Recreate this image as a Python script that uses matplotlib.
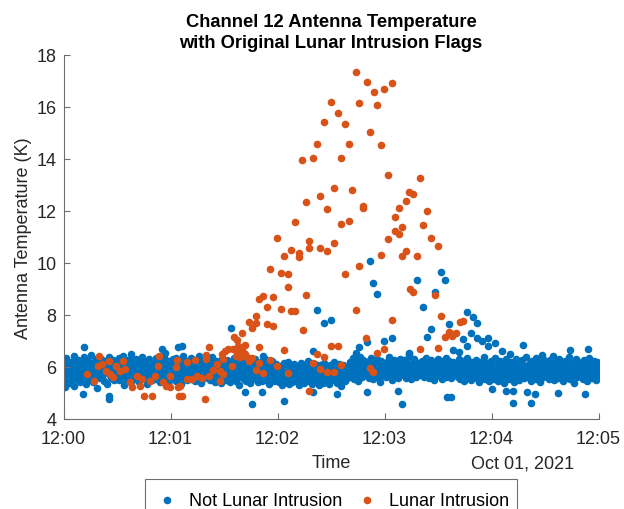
import matplotlib
matplotlib.use('Agg')
import matplotlib.pyplot as plt
from matplotlib.patches import Rectangle
import numpy as np

plt.rcParams['font.family'] = ['Liberation Sans', 'DejaVu Sans']

BLUE = '#0072BD'
ORANGE = '#D95319'

# minutes after 12:00, Oct 01 2021
x_ticks = [0, 1, 2, 3, 4, 5]
x_tick_labels = ['12:00', '12:01', '12:02', '12:03', '12:04', '12:05']
y_ticks = [4, 6, 8, 10, 12, 14, 16, 18]

# regular cold-view samples (not lunar intrusion), one row = 10 s
band_temp = [
    6.12, 5.64, 5.91, 6.33, 5.48, 5.87, 6.05, 5.72, 6.21, 5.39, 5.95, 6.18, 5.61, 5.83, 6.41, 5.27, 5.99, 6.08, 5.55, 5.78, 6.26, 5.69, 5.93, 5.44, 6.15,
    5.81, 6.02, 5.58, 6.37, 5.74, 5.96, 5.33, 6.11, 5.86, 6.24, 5.67, 5.52, 6.07, 5.89, 6.45, 5.71, 5.42, 6.19, 5.97, 5.63, 6.29, 5.85, 5.21, 6.03, 5.76,
    6.14, 5.57, 5.92, 6.31, 5.66, 5.84, 6.09, 5.46, 6.22, 5.79, 5.98, 5.35, 6.16, 5.73, 6.38, 5.88, 5.59, 6.04, 5.69, 6.27, 5.94, 5.51, 6.12, 5.82, 5.65,
    6.06, 5.77, 6.34, 5.49, 5.95, 6.20, 5.62, 5.87, 6.43, 5.30, 6.01, 5.74, 6.17, 5.55, 5.91, 6.28, 5.68, 5.83, 6.10, 5.41, 6.23, 5.97, 5.60, 6.05, 5.80,
    5.89, 6.32, 5.53, 6.00, 5.75, 6.25, 5.44, 5.93, 6.13, 5.66, 6.40, 5.84, 5.58, 6.08, 5.71, 5.98, 6.19, 5.36, 6.03, 5.79, 6.30, 5.63, 5.90, 6.15, 5.50,
    5.96, 6.21, 5.67, 5.86, 6.36, 5.52, 6.07, 5.78, 5.94, 6.26, 5.43, 6.11, 5.72, 6.02, 5.60, 6.39, 5.85, 5.57, 6.18, 5.81, 5.99, 5.38, 6.24, 5.70, 6.04,
    5.83, 6.14, 5.55, 6.29, 5.90, 5.64, 6.08, 5.47, 6.33, 5.76, 6.00, 5.61, 6.20, 5.88, 5.34, 6.12, 5.73, 6.42, 5.92, 5.58, 6.06, 5.80, 6.25, 5.49, 5.97,
    6.10, 5.68, 5.95, 6.35, 5.54, 5.87, 6.16, 5.74, 6.01, 5.45, 6.27, 5.82, 5.63, 6.09, 5.91, 6.44, 5.69, 5.40, 6.03, 5.78, 6.22, 5.96, 5.59, 6.13, 5.85,
    5.93, 6.19, 5.62, 5.84, 6.31, 5.50, 6.05, 5.77, 6.38, 5.66, 5.98, 6.11, 5.44, 5.89, 6.24, 5.71, 6.00, 5.56, 6.17, 5.81, 5.37, 6.28, 5.94, 5.65, 6.07,
    5.78, 6.09, 5.51, 5.92, 6.26, 5.63, 5.85, 6.02, 5.42, 6.18, 5.74, 5.97, 5.58, 6.33, 5.81, 5.67, 6.11, 5.46, 5.90, 6.21, 5.70, 5.31, 6.04, 5.86, 5.60,
    6.00, 5.73, 6.23, 5.55, 5.88, 6.14, 5.48, 5.79, 6.36, 5.64, 5.95, 5.39, 6.07, 5.82, 5.57, 6.19, 5.69, 5.91, 6.29, 5.52, 5.84, 6.06, 5.44, 5.76, 6.12,
    5.66, 5.94, 6.20, 5.47, 5.83, 6.03, 5.59, 6.30, 5.75, 5.50, 6.10, 5.87, 5.35, 5.98, 6.16, 5.71, 5.62, 6.25, 5.80, 5.45, 6.05, 5.93, 5.56, 6.13, 5.77,
    5.62, 5.88, 5.41, 6.05, 5.70, 5.93, 5.29, 5.78, 6.14, 5.53, 5.84, 5.46, 5.99, 5.66, 6.20, 5.35, 5.74, 5.57, 6.02, 5.81, 5.44, 5.69, 6.10, 5.50, 5.86,
    5.73, 5.48, 6.00, 5.60, 5.91, 5.32, 5.80, 6.17, 5.55, 5.67, 5.96, 5.39, 6.08, 5.71, 5.52, 5.89, 5.64, 6.23, 5.45, 5.83, 5.58, 6.04, 5.76, 5.36, 5.94,
    5.58, 5.85, 6.12, 5.43, 5.77, 5.64, 5.97, 5.30, 5.72, 6.06, 5.51, 5.87, 5.66, 5.38, 6.15, 5.79, 5.54, 5.92, 5.47, 6.01, 5.69, 5.34, 5.82, 6.09, 5.60,
    5.80, 5.56, 5.95, 6.18, 5.49, 5.74, 5.61, 6.03, 5.40, 5.88, 5.68, 6.11, 5.53, 5.83, 5.27, 5.71, 6.07, 5.63, 5.90, 5.46, 6.00, 5.75, 5.57, 5.98, 5.85,
    5.92, 6.18, 5.63, 6.05, 5.81, 6.33, 5.55, 5.98, 6.24, 5.70, 6.10, 5.86, 5.47, 6.15, 5.94, 6.40, 5.76, 6.02, 5.60, 6.27, 5.89, 5.68, 6.12, 5.83, 6.07,
    6.00, 5.74, 6.22, 5.58, 5.96, 6.36, 5.79, 6.09, 5.52, 5.91, 6.17, 5.67, 6.04, 5.85, 6.30, 5.62, 5.99, 6.13, 5.44, 5.88, 6.25, 5.71, 6.06, 5.95, 5.65,
    6.11, 5.84, 5.61, 6.20, 5.93, 6.38, 5.69, 6.01, 5.77, 6.14, 5.50, 5.97, 6.28, 5.82, 6.08, 5.64, 6.21, 5.90, 5.56, 6.03, 5.75, 6.32, 5.87, 6.16, 5.72,
    5.86, 6.26, 5.70, 6.02, 5.59, 5.95, 6.19, 5.80, 6.42, 5.66, 6.07, 5.89, 5.53, 6.13, 5.98, 5.73, 6.29, 5.84, 6.05, 5.61, 5.92, 6.17, 5.78, 6.00, 5.68,
    6.09, 5.76, 6.23, 5.94, 5.62, 6.12, 5.85, 6.35, 5.71, 5.99, 6.04, 5.57, 6.18, 5.90, 5.67, 6.27, 5.81, 6.06, 5.49, 5.96, 6.15, 5.74, 6.01, 5.88, 6.31,
    5.83, 6.10, 5.65, 6.22, 5.97, 5.52, 6.03, 5.79, 6.16, 5.91, 5.60, 6.34, 5.87, 6.00, 5.72, 6.25, 5.94, 5.58, 6.08, 5.82, 6.20, 5.69, 5.95, 6.13, 5.77,
    5.90, 6.16, 5.62, 5.97, 6.30, 5.54, 5.84, 6.08, 5.71, 6.24, 5.46, 5.93, 6.11, 5.79, 5.58, 6.35, 5.87, 6.02, 5.66, 5.95, 6.19, 5.50, 5.81, 6.05, 5.74,
    6.03, 5.68, 5.92, 6.27, 5.57, 5.85, 6.13, 5.41, 5.98, 6.20, 5.76, 5.63, 6.07, 5.89, 6.38, 5.52, 5.94, 5.70, 6.15, 5.83, 5.45, 6.10, 5.96, 5.60, 6.22,
    5.80, 6.09, 5.55, 5.91, 6.33, 5.67, 6.00, 5.78, 5.48, 6.17, 5.86, 6.25, 5.61, 5.99, 5.73, 6.12, 5.37, 5.88, 6.04, 5.64, 6.29, 5.82, 5.95, 5.53, 6.14,
    5.97, 5.72, 6.21, 5.59, 5.89, 6.06, 5.43, 5.84, 6.32, 5.69, 6.01, 5.77, 6.18, 5.51, 5.93, 6.10, 5.65, 6.26, 5.85, 5.56, 6.03, 5.79, 6.40, 5.62, 5.90,
    6.07, 5.81, 5.60, 6.15, 5.94, 5.47, 6.23, 5.75, 6.00, 5.66, 5.92, 6.36, 5.54, 5.87, 6.11, 5.71, 5.98, 5.42, 6.19, 5.83, 6.05, 5.63, 6.28, 5.90, 5.74,
    5.86, 6.12, 5.68, 6.04, 5.52, 5.95, 6.27, 5.78, 5.61, 6.09, 5.84, 6.20, 5.49, 5.97, 5.73, 6.14, 5.88, 5.56, 6.31, 5.80, 6.02, 5.67, 5.93, 6.17, 5.45,
    6.00, 5.76, 6.24, 5.58, 5.91, 6.08, 5.64, 6.37, 5.82, 5.53, 6.13, 5.89, 5.70, 6.21, 5.96, 5.40, 6.06, 5.79, 6.29, 5.62, 5.94, 6.16, 5.74, 6.03, 5.85,
    5.92, 6.19, 5.55, 5.98, 6.26, 5.71, 5.87, 6.10, 5.47, 6.02, 5.80, 6.33, 5.65, 5.95, 6.14, 5.59, 5.90, 6.22, 5.77, 6.05, 5.50, 5.84, 6.18, 5.69, 6.01,
]
band_time = np.linspace(0, 5, len(band_temp))

# not-lunar samples away from the main band (minute, K)
blue_extra_time = [2.864, 2.895, 2.930, 3.301, 3.531, 3.568, 3.469, 3.363, 3.435, 3.400, 2.366, 2.432, 2.500, 1.568,
                   2.998, 3.067, 2.834, 2.764, 2.731, 2.335, 3.229, 1.862, 3.768, 3.830, 3.867, 3.600, 3.806, 3.731,
                   3.768, 3.862, 3.908, 3.970, 3.970, 4.036, 4.297, 3.637, 3.699, 4.101, 4.173, 4.736, 4.905, 3.232,
                   0.192, 0.628, 0.918, 0.949, 1.073, 1.105, 0.425, 0.425, 0.185, 1.696, 1.759, 1.852, 3.160, 3.129,
                   2.064, 2.329, 2.553, 2.834, 3.581, 3.622, 4.204, 4.372, 4.136, 4.204, 4.329, 4.407, 4.002, 4.624,
                   4.874, 4.469, 4.578, 0.014]
blue_extra_temp = [10.07, 9.22, 8.81, 9.36, 9.64, 9.36, 8.90, 8.30, 7.46, 7.14, 8.19, 7.70, 7.81, 7.49,
                   6.99, 7.10, 6.95, 6.76, 6.54, 6.63, 6.50, 6.43, 8.13, 7.91, 7.69, 7.67, 7.30, 7.08,
                   6.82, 7.10, 7.01, 7.10, 6.82, 6.91, 6.86, 6.65, 6.57, 6.63, 6.50, 6.67, 6.69, 6.54,
                   6.76, 6.50, 6.69, 6.54, 6.76, 6.82, 4.90, 4.77, 4.96, 5.03, 4.58, 5.03, 4.58, 5.09,
                   4.70, 5.03, 4.96, 5.03, 4.84, 4.84, 4.62, 4.60, 5.09, 5.09, 5.03, 4.96, 5.15, 4.99,
                   4.96, 6.46, 6.43, 5.22]

# lunar intrusion samples (minute, K)
moon_time = [2.731, 2.834, 2.899, 2.998, 3.067, 2.500, 2.764, 2.933, 2.563, 2.432, 2.631, 2.864, 2.366, 2.665,
             2.967, 2.232, 2.332, 2.596, 3.030, 3.335, 2.531, 2.699, 2.394, 2.264, 3.229, 3.266, 3.198, 3.136,
             2.799, 2.799, 2.465, 3.400, 3.098, 2.164, 2.665, 2.596, 3.363, 3.166, 3.098, 3.136, 1.995, 3.432,
             3.030, 2.294, 2.531, 3.497, 2.129, 2.294, 2.394, 2.465, 2.064, 2.198, 2.198, 2.967, 3.198, 3.166,
             3.301, 1.927, 2.030, 2.095, 2.095, 1.830, 1.862, 1.961, 1.899, 2.030, 2.129, 2.164, 2.264, 2.631,
             2.764, 3.236, 3.269, 3.469, 2.731, 3.067, 3.531, 1.731, 1.796, 1.764, 1.796, 1.899, 1.961, 2.235,
             1.665, 1.596, 1.624, 2.830, 3.568, 3.603, 1.696, 1.665, 1.587, 1.619, 1.830, 2.064, 2.500, 2.563,
             3.500, 3.335, 2.998, 2.930, 1.696, 2.366, 2.432, 1.762, 1.734, 1.930, 1.830, 2.332, 1.572, 1.995,
             2.596, 2.397, 1.796, 1.862, 2.095, 2.465, 2.531, 2.864, 2.895, 2.294, 3.706, 3.731, 3.637, 3.668,
             3.628, 0.332, 0.357, 0.428, 0.222, 0.288, 0.394, 0.435, 0.460, 0.491, 0.559, 0.528, 0.575, 0.621,
             0.637, 0.684, 0.731, 0.715, 0.755, 0.824, 0.808, 0.855, 0.886, 0.895, 0.933, 0.958, 0.995, 1.073,
             1.082, 1.634, 1.675, 1.363, 1.509, 1.540, 1.329, 1.332, 1.479, 1.493, 1.612, 1.650, 1.718, 1.432,
             1.049, 1.058, 1.157, 1.226, 1.394, 1.463, 1.493, 1.151, 1.198, 1.245, 1.292, 1.363, 1.463, 0.995,
             1.089, 1.105, 1.322, 0.325]
moon_temp = [17.33, 16.97, 16.59, 16.68, 16.92, 16.20, 16.17, 16.09, 15.76, 15.42, 15.33, 15.03, 14.59, 14.59,
             14.54, 13.97, 14.04, 14.03, 13.37, 13.26, 12.88, 12.81, 12.57, 12.35, 12.72, 12.64, 12.37, 12.12,
             12.19, 12.10, 12.07, 12.00, 11.76, 11.59, 11.62, 11.50, 11.47, 11.38, 11.24, 11.10, 10.95, 10.95,
             10.91, 10.85, 10.77, 10.67, 10.51, 10.59, 10.57, 10.45, 10.27, 10.37, 10.24, 10.31, 10.45, 10.27,
             10.26, 9.78, 9.60, 9.58, 9.07, 8.60, 8.74, 8.68, 8.31, 8.24, 8.15, 8.15, 8.76, 9.57,
             9.88, 9.00, 8.90, 8.78, 8.19, 7.81, 7.95, 7.74, 7.97, 7.50, 7.69, 7.64, 7.59, 7.43,
             7.30, 7.14, 7.05, 7.12, 7.14, 7.36, 6.86, 6.77, 6.70, 6.62, 6.77, 6.65, 6.82, 6.82,
             6.74, 6.68, 6.68, 6.54, 6.49, 6.49, 6.38, 6.33, 6.22, 6.26, 6.15, 6.15, 6.05, 6.03,
             6.08, 5.91, 5.88, 5.76, 5.76, 5.80, 5.82, 5.95, 5.80, 5.08, 7.74, 7.76, 7.27, 7.31,
             7.18, 6.43, 6.12, 6.23, 5.73, 5.47, 5.86, 5.73, 5.60, 6.03, 6.24, 5.86, 5.92, 5.43,
             5.22, 5.67, 5.54, 5.28, 4.90, 4.90, 5.47, 5.67, 6.05, 6.42, 5.41, 5.28, 5.67, 5.22,
             4.90, 6.82, 6.59, 6.76, 6.63, 6.69, 6.46, 6.31, 6.50, 6.31, 6.43, 6.37, 6.37, 6.12,
             5.99, 6.28, 6.20, 6.28, 5.90, 5.86, 5.73, 5.54, 5.54, 5.67, 5.57, 5.67, 5.47, 5.22,
             5.26, 4.90, 4.77, 6.03]

blue_time = np.concatenate([band_time, blue_extra_time])
blue_temp = np.concatenate([band_temp, blue_extra_temp])

fig = plt.figure(figsize=(6.24, 5.10), dpi=100)
ax = fig.add_axes([63.5 / 624, 1 - 420 / 510, 535 / 624, 364 / 510])

h1 = ax.scatter(blue_time, blue_temp, s=30, c=BLUE, linewidths=0, label='Not Lunar Intrusion')
h2 = ax.scatter(moon_time, moon_temp, s=30, c=ORANGE, linewidths=0, label='Lunar Intrusion')

ax.set_xlim(0, 5)
ax.set_ylim(4, 18)
ax.set_xticks(x_ticks)
ax.set_xticklabels(x_tick_labels)
ax.set_yticks(y_ticks)

for s in ['top', 'right']:
    ax.spines[s].set_visible(False)
for s in ['left', 'bottom']:
    ax.spines[s].set_color('#6e6e6e')
    ax.spines[s].set_linewidth(0.8)
ax.tick_params(direction='in', length=4, width=0.8, color='#6e6e6e',
               labelsize=13, labelcolor='#262626')
ax.tick_params(axis='x', pad=8)
ax.tick_params(axis='y', pad=5)

ax.set_title('Channel 12 Antenna Temperature\nwith Original Lunar Intrusion Flags',
             fontsize=13.2, fontweight='bold', linespacing=1.25, pad=6)
ax.set_ylabel('Antenna Temperature (K)', fontsize=13, color='#262626')
ax.yaxis.set_label_coords(-0.058, 0.5)
ax.set_xlabel('Time', fontsize=13, color='#262626')
ax.xaxis.set_label_coords(0.5, -0.097)
ax.text(0.858, -0.097, 'Oct 01, 2021', transform=ax.transAxes, ha='center', va='top',
        fontsize=13, color='#262626')

# legend entries without their own frame; the box is drawn separately so it
# hugs the text on the right like the original
fig.legend(handles=[h1, h2], loc='upper left', bbox_to_anchor=(145 / 624, 1 - 480 / 510),
           ncol=2, fontsize=13, frameon=False, borderaxespad=0,
           handlelength=1.0, handletextpad=0.75, columnspacing=0.85, borderpad=0.7)
fig.patches.append(Rectangle((145 / 624, -0.05), 372 / 624, 30 / 510 + 0.05,
                             transform=fig.transFigure, fill=False,
                             edgecolor='#6e6e6e', linewidth=0.8))

fig.savefig('out.png', dpi=100)
